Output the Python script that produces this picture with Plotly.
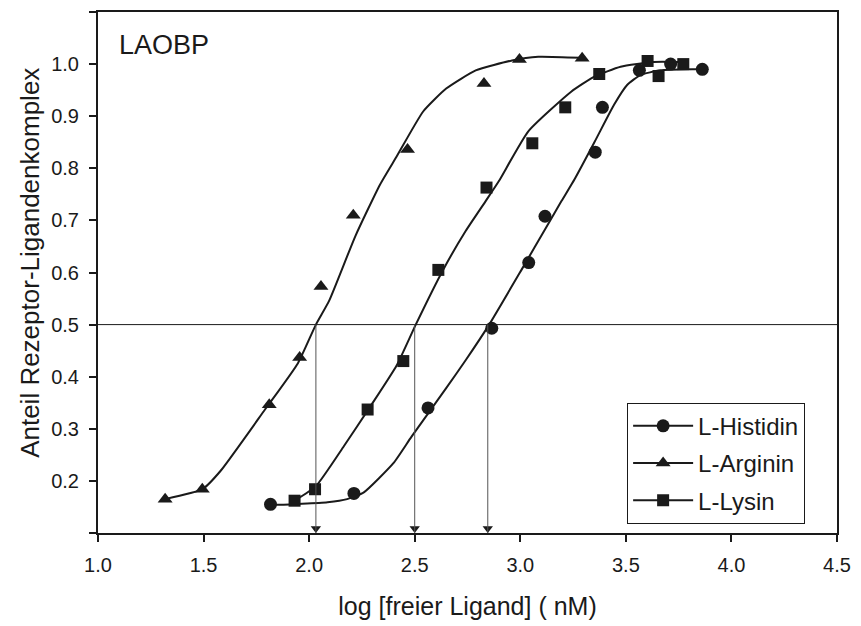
import plotly.graph_objects as go

# ---- data points ----
his_x = [1.817, 2.212, 2.563, 2.865, 3.040, 3.117, 3.355, 3.389, 3.564, 3.712, 3.862]
his_y = [0.155, 0.176, 0.340, 0.493, 0.619, 0.708, 0.831, 0.917, 0.988, 1.000, 0.990]

arg_x = [1.318, 1.494, 1.811, 1.955, 2.056, 2.209, 2.466, 2.828, 2.996, 3.293]
arg_y = [0.165, 0.184, 0.346, 0.437, 0.573, 0.710, 0.836, 0.963, 1.009, 1.011]

lys_x = [1.931, 2.028, 2.277, 2.446, 2.612, 2.840, 3.057, 3.213, 3.374, 3.603, 3.655, 3.772]
lys_y = [0.162, 0.184, 0.337, 0.430, 0.605, 0.763, 0.848, 0.917, 0.981, 1.006, 0.977, 1.000]

# ---- fitted curves ----
his_fit_x = [1.817, 1.853, 2.087, 2.180, 2.259, 2.399, 2.485, 2.649, 2.742, 2.851, 3.007,
             3.132, 3.195, 3.257, 3.351, 3.444, 3.506, 3.569, 3.663, 3.818, 3.862]
his_fit_y = [0.155, 0.154, 0.159, 0.165, 0.178, 0.234, 0.285, 0.378, 0.432, 0.499, 0.606,
             0.693, 0.737, 0.779, 0.850, 0.922, 0.960, 0.979, 0.988, 0.990, 0.990]

arg_fit_x = [1.318, 1.494, 1.580, 1.791, 1.947, 2.032, 2.095, 2.219, 2.336, 2.415, 2.540,
             2.649, 2.789, 2.961, 3.085, 3.288]
arg_fit_y = [0.165, 0.184, 0.219, 0.337, 0.426, 0.500, 0.546, 0.670, 0.769, 0.823, 0.909,
             0.953, 0.988, 1.007, 1.014, 1.012]

lys_fit_x = [1.931, 2.032, 2.165, 2.290, 2.415, 2.505, 2.633, 2.742, 2.836, 2.898, 3.038,
             3.241, 3.351, 3.475, 3.631, 3.756]
lys_fit_y = [0.162, 0.190, 0.267, 0.343, 0.422, 0.500, 0.604, 0.680, 0.737, 0.775, 0.871,
             0.947, 0.976, 0.995, 1.004, 1.004]

# half-saturation (y = 0.5) positions with arrows
half_level = 0.5
half_x = [2.032, 2.500, 2.846]

x_ticks = [1.0, 1.5, 2.0, 2.5, 3.0, 3.5, 4.0, 4.5]
y_ticks = [0.1, 0.2, 0.3, 0.4, 0.5, 0.6, 0.7, 0.8, 0.9, 1.0, 1.1]
y_ticktext = ["", "0.2", "0.3", "0.4", "0.5", "0.6", "0.7", "0.8", "0.9", "1.0", ""]

x_range = [1.0, 4.5]
y_range = [0.1, 1.1]

FONT = "Arial, Liberation Sans, sans-serif"
INK = "#1a1a1a"

fig = go.Figure()

series = [
    ("L-Histidin", his_x, his_y, his_fit_x, his_fit_y, "circle", 13),
    ("L-Arginin", arg_x, arg_y, arg_fit_x, arg_fit_y, "triangle-up", 13),
    ("L-Lysin", lys_x, lys_y, lys_fit_x, lys_fit_y, "square", 12),
]

for name, xs, ys, fx, fy, sym, sz in series:
    fig.add_trace(go.Scatter(x=fx, y=fy, mode="lines",
                             line=dict(color=INK, width=2, shape="spline", smoothing=0.5),
                             showlegend=False, hoverinfo="skip"))
    fig.add_trace(go.Scatter(x=xs, y=ys, mode="markers", showlegend=False,
                             marker=dict(symbol=sym, size=sz, color=INK, line=dict(width=0))))
    # legend entry (line + marker)
    fig.add_trace(go.Scatter(x=[None], y=[None], mode="lines+markers", name=name,
                             legendgroup=name,
                             line=dict(color=INK, width=2),
                             marker=dict(symbol=sym, size=sz, color=INK)))

# horizontal half-saturation line
fig.add_shape(type="line", xref="paper", x0=0, x1=1, yref="y", y0=half_level, y1=half_level,
              line=dict(color=INK, width=1))

# vertical drop lines
for hx in half_x:
    fig.add_shape(type="line", xref="x", yref="y", x0=hx, x1=hx, y0=half_level, y1=y_range[0],
                  line=dict(color="#555555", width=1))

# arrowheads touching the x axis
head_px = 4.5
plot_h = 524
head_y = y_range[0] + head_px * (y_range[1] - y_range[0]) / plot_h
fig.add_trace(go.Scatter(x=half_x, y=[head_y] * len(half_x), mode="markers", showlegend=False,
                         hoverinfo="skip",
                         marker=dict(symbol="triangle-down", size=9, color=INK, line=dict(width=0))))

fig.add_annotation(text="LAOBP", xref="paper", yref="paper", x=0.026, y=0.937,
                   xanchor="left", yanchor="middle", showarrow=False,
                   font=dict(family=FONT, size=27, color=INK))

# y-axis title (placed as rotated text, slightly above the plot centre as in the original)
fig.add_annotation(text="Anteil Rezeptor-Ligandenkomplex", xref="paper", yref="paper",
                   x=-0.093, y=0.519, xanchor="center", yanchor="middle", textangle=-90,
                   showarrow=False, font=dict(family=FONT, size=26, color=INK))

fig.update_layout(
    width=861, height=626,
    margin=dict(l=98, r=15, t=10, b=92),
    paper_bgcolor="white", plot_bgcolor="white",
    font=dict(family=FONT, color=INK),
    legend=dict(x=0.716, y=0.250, xanchor="left", yanchor="top",
                bordercolor=INK, borderwidth=1, bgcolor="white",
                font=dict(family=FONT, size=24, color=INK),
                tracegroupgap=3, itemwidth=60),
    showlegend=True,
)

fig.update_xaxes(range=x_range, tickvals=x_ticks, ticktext=[f"{v:.1f}" for v in x_ticks],
                 showgrid=False, zeroline=False, showline=True, linecolor=INK, linewidth=2,
                 mirror=True, ticks="outside", ticklen=7, tickwidth=2, tickcolor=INK,
                 ticklabelstandoff=6,
                 tickfont=dict(family=FONT, size=20, color=INK),
                 title=dict(text="log [freier Ligand] ( nM)", standoff=22,
                            font=dict(family=FONT, size=25, color=INK)))
fig.update_yaxes(range=y_range, tickvals=y_ticks, ticktext=y_ticktext,
                 showgrid=False, zeroline=False, showline=True, linecolor=INK, linewidth=2,
                 mirror=True, ticks="outside", ticklen=7, tickwidth=2, tickcolor=INK,
                 ticklabelstandoff=6,
                 tickfont=dict(family=FONT, size=20, color=INK))

fig.write_html("out.html")
